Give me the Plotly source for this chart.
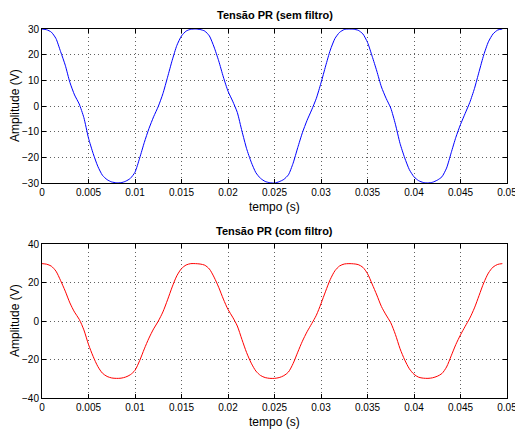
import plotly.graph_objects as go

# time axis (s), sampled every 0.5 ms
tempo = [round(0.0005 * k, 4) for k in range(100)]

# Tensão PR (sem filtro)
v_sem = [
    30.0, 29.7, 28.8, 26.3, 21.2, 15.9, 9.2, 4.3, 0.8, -4.5,
    -12.5, -18.5, -23.5, -27.0, -28.7, -29.6, -29.9, -29.9, -29.3, -28.2,
    -25.8, -20.3, -14.2, -8.8, -4.2, -0.2, 4.8, 11.2, 17.8, 23.6,
    27.3, 29.2, 29.9, 30.0, 29.8, 29.2, 27.3, 23.0, 17.6, 11.3,
    5.8, 1.9, -2.5, -9.8, -16.6, -21.9, -26.0, -28.2, -29.4, -29.9,
    -30.0, -29.5, -28.6, -26.8, -22.3, -16.2, -10.4, -5.6, -1.5, 3.0,
    9.0, 15.6, 21.8, 26.3, 28.7, 29.8, 30.0, 29.9, 29.5, 28.1,
    24.8, 19.4, 13.6, 7.4, 3.0, -0.8, -7.1, -14.6, -20.2, -24.8,
    -27.6, -29.1, -29.8, -30.0, -29.7, -28.9, -27.6, -24.2, -18.2, -12.2,
    -7.2, -2.9, 1.4, 6.8, 13.4, 19.9, 25.0, 28.1, 29.6, 30.0,
]

# Tensão PR (com filtro)
v_com = [
    29.8, 29.5, 28.5, 25.9, 21.0, 15.5, 9.4, 4.6, 0.9, -4.6,
    -12.2, -18.4, -23.6, -27.1, -28.8, -29.6, -29.8, -29.7, -29.1, -27.9,
    -25.6, -20.6, -14.5, -8.9, -4.1, -0.1, 4.7, 11.0, 17.7, 23.5,
    27.2, 29.1, 29.8, 29.8, 29.6, 29.0, 27.0, 22.8, 17.5, 11.4,
    6.0, 2.0, -2.6, -9.6, -16.4, -21.9, -26.0, -28.3, -29.4, -29.8,
    -29.8, -29.4, -28.4, -26.5, -22.1, -16.2, -10.5, -5.6, -1.4, 3.0,
    9.0, 15.5, 21.6, 26.1, 28.6, 29.6, 29.8, 29.7, 29.3, 27.9,
    24.6, 19.2, 13.5, 7.5, 3.1, -0.9, -7.0, -14.4, -20.2, -24.8,
    -27.7, -29.2, -29.7, -29.8, -29.5, -28.7, -27.3, -23.9, -18.1, -12.2,
    -7.2, -2.8, 1.5, 6.8, 13.3, 19.8, 24.9, 28.0, 29.4, 29.8,
]

x_ticks = [0, 0.005, 0.01, 0.015, 0.02, 0.025, 0.03, 0.035, 0.04, 0.045, 0.05]
x_labels = ["0", "0.005", "0.01", "0.015", "0.02", "0.025", "0.03", "0.035", "0.04", "0.045", "0.05"]
y1_ticks = [-30, -20, -10, 0, 10, 20, 30]
y2_ticks = [-40, -20, 0, 20, 40]

titles = ["Tensão PR (sem filtro)", "Tensão PR (com filtro)"]
xlabel = "tempo (s)"
ylabel = "Amplitude (V)"

FONT = "Liberation Sans, Arial, sans-serif"

fig = go.Figure()
fig.add_trace(go.Scatter(x=tempo, y=v_sem, mode="lines", line=dict(color="#0000ff", width=1, shape="spline", smoothing=0.6),
                         xaxis="x", yaxis="y", showlegend=False, hoverinfo="skip"))
fig.add_trace(go.Scatter(x=tempo, y=v_com, mode="lines", line=dict(color="#ff0000", width=1, shape="spline", smoothing=0.8),
                         xaxis="x2", yaxis="y2", showlegend=False, hoverinfo="skip"))

L, R, T, B = 42, 8, 29, 32
H = 430 - T - B
top_dom = [(398 - 183) / H, 1.0]
bot_dom = [0.0, (398 - 244) / H]

axis_common = dict(
    showline=True, linecolor="black", linewidth=1, mirror="ticks",
    ticks="inside", ticklen=4, tickcolor="black",
    showgrid=True, gridcolor="#606060", gridwidth=1, griddash="1px,3px",
    zeroline=False, automargin=False, ticklabeloverflow="allow",
    tickfont=dict(family=FONT, size=10, color="black"),
)

XR = [0, 0.05000001]

fig.update_layout(
    width=515, height=430,
    margin=dict(l=L, r=R, t=T, b=B),
    paper_bgcolor="white", plot_bgcolor="white",
    xaxis=dict(domain=[0, 1], anchor="y", range=XR, tickvals=x_ticks, ticktext=x_labels, **axis_common),
    yaxis=dict(domain=top_dom, anchor="x", range=[-30.0001, 30.0001], tickvals=y1_ticks, **axis_common),
    xaxis2=dict(domain=[0, 1], anchor="y2", range=XR, tickvals=x_ticks, ticktext=x_labels, **axis_common),
    yaxis2=dict(domain=bot_dom, anchor="x2", range=[-40.0001, 40.0001], tickvals=y2_ticks, **axis_common),
)

ann = []
for title, ytitle, yx, yy in [(titles[0], 15, 207, 106), (titles[1], 231, 422, 321)]:
    ann.append(dict(text="<b>%s</b>" % title, x=0.5, xref="paper", y=1 - (ytitle - T) / H, yref="paper",
                    showarrow=False, font=dict(family=FONT, size=11, color="black"), xanchor="center", yanchor="middle"))
    ann.append(dict(text=xlabel, x=0.5, xref="paper", y=1 - (yx - T) / H, yref="paper",
                    showarrow=False, font=dict(family=FONT, size=12, color="black"), xanchor="center", yanchor="middle"))
    ann.append(dict(text=ylabel, x=(15 - L) / (515 - L - R), xref="paper", y=1 - (yy - T) / H, yref="paper",
                    textangle=-90, showarrow=False, font=dict(family=FONT, size=12, color="black"),
                    xanchor="center", yanchor="middle"))
fig.update_layout(annotations=ann)

fig.write_html("out.html", config={"displayModeBar": False},
               post_script="document.body.style.margin='0px';document.body.style.overflow='hidden';")
